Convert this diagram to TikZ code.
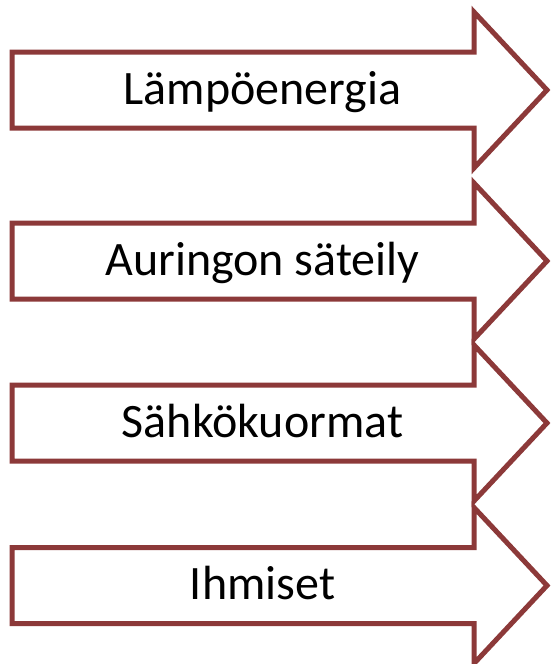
\documentclass[tikz,border=0pt]{standalone}
\usepackage{fontspec}
\setmainfont{Carlito}
\definecolor{arrowred}{RGB}{140,57,57}
\tikzset{
  arrowshape/.style={draw=arrowred, fill=white, line width=5pt, line join=miter},
  arrowlabel/.style={anchor=base, inner sep=0pt, font=\fontsize{48}{57}\selectfont, text=black}
}
\begin{document}
\begin{tikzpicture}[x=1pt, y=-1pt]
\useasboundingbox (0,0) rectangle (551,664);
\foreach \c/\lab/\nm in {90/Lämpöenergia/a1, 261/Auringon säteily/a2, 423/Sähkökuormat/a3, 585.5/Ihmiset/a4}{
  \draw[arrowshape] (12,\c-38) -- (474,\c-38) -- (474,\c-78) -- (547,\c) -- (474,\c+78) -- (474,\c+38) -- (12,\c+38) -- cycle;
  \node[arrowlabel] (\nm) at (262.5,\c+14) {\lab};
}
\end{tikzpicture}
\end{document}
